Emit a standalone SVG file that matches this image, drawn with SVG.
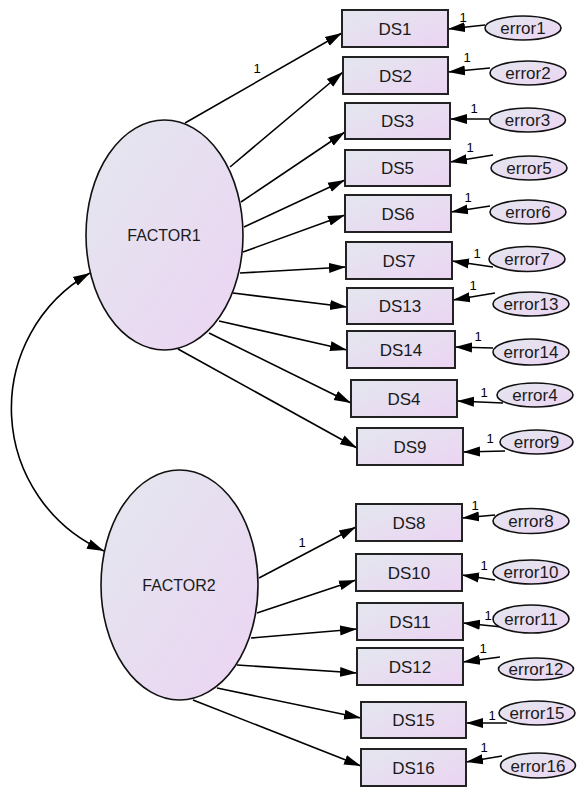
<svg xmlns="http://www.w3.org/2000/svg" width="577" height="787" viewBox="0 0 577 787">
<style>
.box{fill:url(#g);stroke:#222;stroke-width:2}
.lat{fill:url(#g);stroke:#111;stroke-width:1.6}
.err{fill:url(#g);stroke:#111;stroke-width:1.6}
.t{font-family:"Liberation Sans",Arial,sans-serif;font-size:17px;fill:#1a1a1a;text-anchor:middle}
.tf{font-family:"Liberation Sans",Arial,sans-serif;font-size:16px;fill:#1a1a1a;text-anchor:middle}
.te{font-family:"Liberation Sans",Arial,sans-serif;font-size:17px;fill:#1a1a1a;text-anchor:middle}
.one{font-family:"Liberation Sans",Arial,sans-serif;font-size:13px;fill:#000;text-anchor:middle}
.c{fill:none;stroke:#000;stroke-width:1.6;marker-end:url(#ah)}
</style>
<defs>
<linearGradient id="g" x1="0" y1="0" x2="1" y2="1">
<stop offset="0" stop-color="#e3e7ee"/>
<stop offset="1" stop-color="#ecd4f3"/>
</linearGradient>
<marker id="ah" markerUnits="userSpaceOnUse" markerWidth="18" markerHeight="12" refX="17" refY="6" orient="auto-start-reverse">
<path d="M0,1 L17,6 L0,11 z" fill="#000"/>
</marker>
</defs>

<g id="connectors">
<path class="c" d="M185,123 L342,33"/>
<path class="c" d="M230,167 L343,72"/>
<path class="c" d="M241,202 L345,132"/>
<path class="c" d="M244,227 L345,180"/>
<path class="c" d="M243,252 L345,215"/>
<path class="c" d="M240,273 L346,267"/>
<path class="c" d="M233,293 L347,307"/>
<path class="c" d="M219,321 L347,350"/>
<path class="c" d="M209,333 L351,403"/>
<path class="c" d="M178,349 L357,448"/>
<path class="c" d="M259,578 L356,527"/>
<path class="c" d="M257,613 L356,580"/>
<path class="c" d="M251,638 L357,629"/>
<path class="c" d="M237,665 L357,673"/>
<path class="c" d="M217,688 L361,718"/>
<path class="c" d="M193,700 L361,766"/>
<path class="c" d="M485,25 L448,29"/>
<path class="c" d="M490,68 L448,72"/>
<path class="c" d="M489,119 L450,119"/>
<path class="c" d="M493,155 L450,162"/>
<path class="c" d="M490,206 L451,212"/>
<path class="c" d="M493,267 L452,261"/>
<path class="c" d="M495,293 L453,300"/>
<path class="c" d="M493,348 L455,347"/>
<path class="c" d="M503,403 L457,401"/>
<path class="c" d="M505,451 L463,452"/>
<path class="c" d="M495,515 L462,518"/>
<path class="c" d="M495,580 L462,575"/>
<path class="c" d="M502,627 L463,623"/>
<path class="c" d="M500,657 L463,662"/>
<path class="c" d="M507,723 L466,723"/>
<path class="c" d="M502,756 L466,762"/>
<path class="c" d="M90,273 A156,156 0 0 0 104,551" style="marker-start:url(#ah)"/>
<text class="one" x="257" y="73">1</text>
<text class="one" x="302" y="547">1</text>
<text class="one" x="463" y="22">1</text>
<text class="one" x="467" y="62">1</text>
<text class="one" x="474" y="113">1</text>
<text class="one" x="470" y="152">1</text>
<text class="one" x="468" y="202">1</text>
<text class="one" x="477" y="258">1</text>
<text class="one" x="473" y="290">1</text>
<text class="one" x="478" y="341">1</text>
<text class="one" x="484" y="397">1</text>
<text class="one" x="490" y="443">1</text>
<text class="one" x="475" y="510">1</text>
<text class="one" x="484" y="570">1</text>
<text class="one" x="488" y="620">1</text>
<text class="one" x="483" y="653">1</text>
<text class="one" x="492" y="720">1</text>
<text class="one" x="484" y="752">1</text>
</g>

<g id="FACTOR1"><ellipse class="lat" cx="164.5" cy="235" rx="78.5" ry="115"/><text class="tf" x="164" y="241">FACTOR1</text></g>
<g id="FACTOR2"><ellipse class="lat" cx="179.5" cy="585" rx="78.5" ry="115"/><text class="tf" x="179" y="591">FACTOR2</text></g>

<g id="DS1"><rect class="box" x="342" y="10" width="106" height="37"/><text class="t" x="395" y="34.5">DS1</text></g>
<g id="DS2"><rect class="box" x="343" y="57" width="105" height="37"/><text class="t" x="395.5" y="81.5">DS2</text></g>
<g id="DS3"><rect class="box" x="345" y="103" width="105" height="36"/><text class="t" x="397.5" y="127">DS3</text></g>
<g id="DS5"><rect class="box" x="345" y="150" width="105" height="36"/><text class="t" x="397.5" y="174">DS5</text></g>
<g id="DS6"><rect class="box" x="345" y="195" width="106" height="37"/><text class="t" x="398" y="219.5">DS6</text></g>
<g id="DS7"><rect class="box" x="346" y="242" width="106" height="37"/><text class="t" x="399" y="266.5">DS7</text></g>
<g id="DS13"><rect class="box" x="347" y="288" width="106" height="36"/><text class="t" x="400" y="312">DS13</text></g>
<g id="DS14"><rect class="box" x="347" y="331" width="108" height="37"/><text class="t" x="401" y="355.5">DS14</text></g>
<g id="DS4"><rect class="box" x="351" y="380" width="106" height="37"/><text class="t" x="404" y="404.5">DS4</text></g>
<g id="DS9"><rect class="box" x="357" y="428" width="106" height="37"/><text class="t" x="410" y="452.5">DS9</text></g>
<g id="DS8"><rect class="box" x="356" y="504" width="106" height="37"/><text class="t" x="409" y="528.5">DS8</text></g>
<g id="DS10"><rect class="box" x="356" y="554" width="106" height="37"/><text class="t" x="409" y="578.5">DS10</text></g>
<g id="DS11"><rect class="box" x="357" y="603" width="106" height="37"/><text class="t" x="410" y="627.5">DS11</text></g>
<g id="DS12"><rect class="box" x="357" y="648" width="106" height="37"/><text class="t" x="410" y="672.5">DS12</text></g>
<g id="DS15"><rect class="box" x="361" y="702" width="105" height="36"/><text class="t" x="413.5" y="726">DS15</text></g>
<g id="DS16"><rect class="box" x="361" y="749" width="105" height="37"/><text class="t" x="413.5" y="773.5">DS16</text></g>

<g id="error1"><ellipse class="err" cx="523" cy="28" rx="38" ry="12"/><text class="te" x="523" y="34">error1</text></g>
<g id="error2"><ellipse class="err" cx="528" cy="73" rx="38" ry="12"/><text class="te" x="528" y="79">error2</text></g>
<g id="error3"><ellipse class="err" cx="527.5" cy="120" rx="38" ry="12"/><text class="te" x="527.5" y="126">error3</text></g>
<g id="error5"><ellipse class="err" cx="529" cy="168" rx="38" ry="12"/><text class="te" x="529" y="174">error5</text></g>
<g id="error6"><ellipse class="err" cx="528" cy="212" rx="38" ry="12"/><text class="te" x="528" y="218">error6</text></g>
<g id="error7"><ellipse class="err" cx="527" cy="259" rx="38" ry="12.5"/><text class="te" x="527" y="265">error7</text></g>
<g id="error13"><ellipse class="err" cx="531" cy="304" rx="38" ry="12"/><text class="te" x="531" y="310">error13</text></g>
<g id="error14"><ellipse class="err" cx="531" cy="352" rx="38" ry="13"/><text class="te" x="531" y="358">error14</text></g>
<g id="error4"><ellipse class="err" cx="535" cy="395" rx="38" ry="12"/><text class="te" x="535" y="401">error4</text></g>
<g id="error9"><ellipse class="err" cx="536.5" cy="442" rx="36.5" ry="12"/><text class="te" x="536.5" y="448">error9</text></g>
<g id="error8"><ellipse class="err" cx="531" cy="521" rx="38" ry="12.5"/><text class="te" x="531" y="527">error8</text></g>
<g id="error10"><ellipse class="err" cx="531" cy="572" rx="38" ry="12"/><text class="te" x="531" y="578">error10</text></g>
<g id="error11"><ellipse class="err" cx="531" cy="619" rx="38" ry="14"/><text class="te" x="531" y="625">error11</text></g>
<g id="error12"><ellipse class="err" cx="536" cy="669" rx="37.5" ry="11"/><text class="te" x="536" y="675">error12</text></g>
<g id="error15"><ellipse class="err" cx="537" cy="713" rx="38" ry="12"/><text class="te" x="537" y="719">error15</text></g>
<g id="error16"><ellipse class="err" cx="538" cy="765.5" rx="37.5" ry="12.5"/><text class="te" x="538" y="771.5">error16</text></g>
</svg>
